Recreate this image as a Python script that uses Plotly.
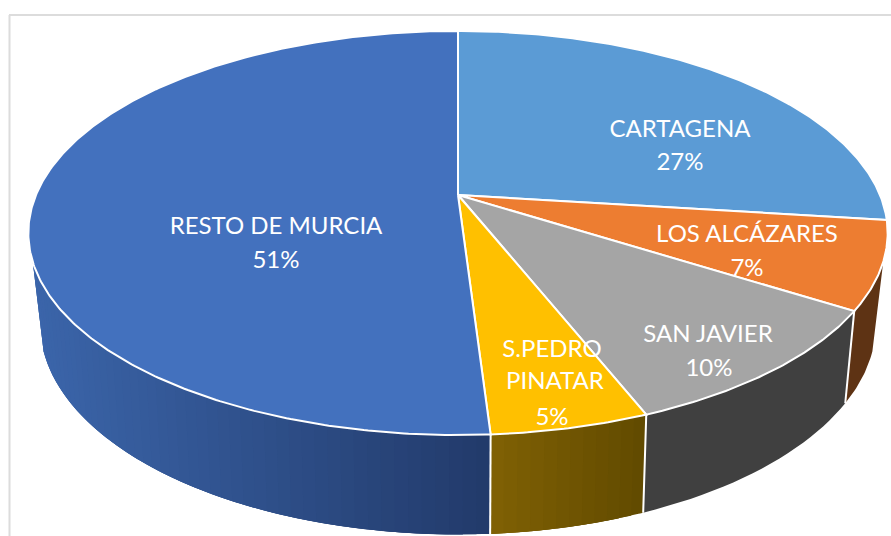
import numpy as np
import plotly.graph_objects as go

# --- data ---
categories = ["CARTAGENA", "LOS ALCÁZARES", "SAN JAVIER", "S.PEDRO PINATAR", "RESTO DE MURCIA"]
shares = [27, 7, 10, 5, 51]
label_lines = [["CARTAGENA", "27%"], ["LOS ALCÁZARES", "7%"], ["SAN JAVIER", "10%"],
               ["S.PEDRO", "PINATAR", "5%"], ["RESTO DE MURCIA", "51%"]]

# --- style ---
top_colors = ["#5b9bd5", "#ed7d31", "#a5a5a5", "#ffc000", "#4371be"]
side_left = [(50, 90, 140), (94, 51, 20), (64, 64, 64), (128, 97, 4), (59, 101, 170)]
side_right = [(50, 90, 140), (94, 51, 20), (64, 64, 64), (97, 74, 0), (34, 58, 106)]
label_xy = [[(680, 130.5), (680, 163.5)], [(747, 236), (747, 269.5)], [(708, 335.5), (709, 369.5)],
            [(552, 350.5), (555, 382.5), (552, 418.5)], [(276, 227.5), (276, 261.5)]]
FONT = "Lato"
FONT_SIZE = 24
FONT_WEIGHT = 400
W, H = 891, 536
CX = 458
TOP = dict(y0=195, A=422, B=194.9, k=0.188)
BOT = dict(y0=282, A=409.5, B=202, k=0.2)
SIDE_FROM, SIDE_TO = 108.8, 251.2


def project(theta_deg, rim):
    t = np.radians(theta_deg)
    u, v = np.sin(t), -np.cos(t)
    d = 1 - rim["k"] * v
    return CX + rim["A"] * u / d, rim["y0"] + rim["B"] * v / d


fig = go.Figure()


def poly(xs, ys, fill, line_color=None, line_width=0):
    fig.add_trace(go.Scatter(x=list(xs), y=list(ys), mode="lines", fill="toself", fillcolor=fill,
                             line=dict(color=line_color or fill, width=line_width),
                             hoverinfo="skip", showlegend=False))


edges = np.cumsum([0] + shares) / sum(shares) * 360.0

# side wall: overlapping strips painted in order, so the shading has no seams
seams = []
for i, (a0, a1) in enumerate(zip(edges[:-1], edges[1:])):
    lo, hi = max(a0, SIDE_FROM), min(a1, SIDE_TO)
    if hi <= lo:
        continue
    if SIDE_FROM <= a0 <= SIDE_TO:
        seams.append(a0)
    flat = side_left[i] == side_right[i]
    n = 1 if flat else max(2, int((hi - lo) / 1.5))
    ang = np.linspace(lo, hi, n + 1)
    x_all = project(np.linspace(lo, hi, 60), TOP)[0]
    xmin, xmax = x_all.min(), x_all.max()
    for b0, b1 in zip(ang[:-1], ang[1:]):
        span = np.linspace(b0, min(hi, b1 + 2 * (hi - lo) / n) if not flat else hi, 24)
        xt, yt = project(span, TOP)
        xb, yb = project(span[::-1], BOT)
        f = (project((b0 + b1) / 2, TOP)[0] - xmin) / max(xmax - xmin, 1)
        c = [round(l + (r - l) * f) for l, r in zip(side_left[i], side_right[i])]
        poly([*xt, *xb, xt[0]], [*yt, *yb, yt[0]], f"rgb({c[0]},{c[1]},{c[2]})")

# white seams between wall segments
for a in seams:
    xa, ya = project(a, TOP)
    xb, yb = project(a, BOT)
    fig.add_trace(go.Scatter(x=[xa, xb], y=[ya, yb], mode="lines", line=dict(color="white", width=2),
                             hoverinfo="skip", showlegend=False))

# top face
for i, (a0, a1) in enumerate(zip(edges[:-1], edges[1:])):
    ang = np.linspace(a0, a1, max(8, int(a1 - a0) * 2))
    x, y = project(ang, TOP)
    poly([CX, *x, CX], [TOP["y0"], *y, TOP["y0"]], top_colors[i], "white", 2)

# labels
tx, ty, tt = [], [], []
for lines, pos in zip(label_lines, label_xy):
    for s, (px, py) in zip(lines, pos):
        tx.append(px)
        ty.append(py)
        tt.append(s)
fig.add_trace(go.Scatter(x=tx, y=ty, text=tt, mode="text", textposition="middle center",
                         textfont=dict(family=FONT, size=FONT_SIZE, color="white", weight=FONT_WEIGHT),
                         hoverinfo="skip", showlegend=False))

fig.update_layout(
    width=W, height=H, margin=dict(l=0, r=0, t=0, b=0),
    paper_bgcolor="white", plot_bgcolor="white", showlegend=False,
    xaxis=dict(range=[0, W], visible=False, fixedrange=True),
    yaxis=dict(range=[H, 0], visible=False, fixedrange=True),
    shapes=[
        dict(type="line", x0=9.5, x1=9.5, y0=15, y1=H, line=dict(color="#dcdcdc", width=2), layer="below"),
        dict(type="line", x0=9, x1=W, y0=15, y1=15, line=dict(color="#dcdcdc", width=2), layer="below"),
    ],
)
fig.write_html("out.html", config={"displayModeBar": False},
               post_script="document.body.style.margin='0';document.documentElement.style.overflow='hidden';")
